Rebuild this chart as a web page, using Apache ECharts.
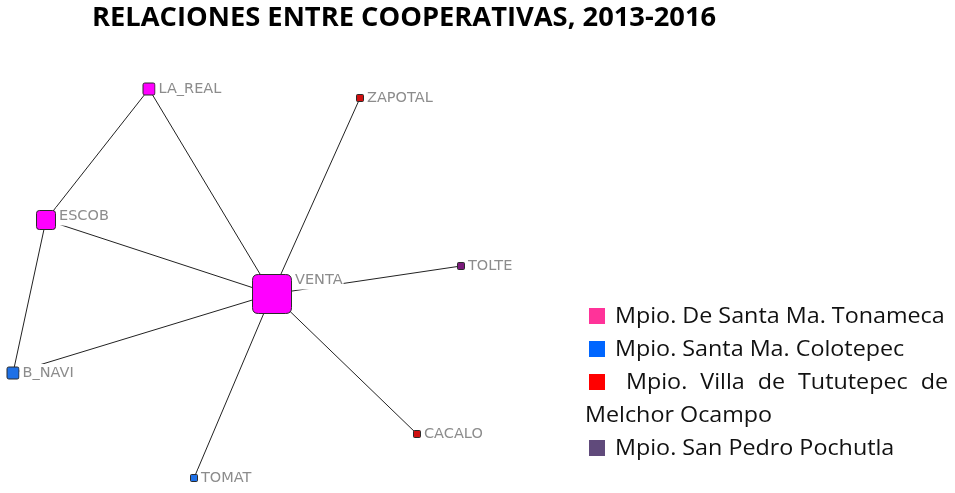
<!DOCTYPE html>
<html>
<head>
<meta charset="utf-8">
<script src="https://cdn.jsdelivr.net/npm/echarts@6/dist/echarts.min.js"></script>
<style>
  html, body { margin: 0; padding: 0; background: #fff; }
  #main { width: 955px; height: 493px; }
</style>
</head>
<body>
<div id="main"></div>
<script>
// nodos de la red (posiciones del layout, en pixeles de la imagen)
const nodeNames = ['LA_REAL', 'ZAPOTAL', 'ESCOB', 'VENTA', 'TOLTE', 'B_NAVI', 'CACALO', 'TOMAT'];
const nodeX = [149, 360, 46, 272, 461, 13, 417, 194];
const nodeY = [89, 98, 220, 294, 266, 373, 434, 478];
const nodeSize = [12, 7, 19, 39, 7, 12, 7, 7];
const nodeCat = [0, 2, 0, 0, 3, 1, 2, 1];

const linkSource = ['LA_REAL', 'LA_REAL', 'ZAPOTAL', 'ESCOB', 'ESCOB', 'B_NAVI', 'TOLTE', 'CACALO', 'TOMAT'];
const linkTarget = ['ESCOB', 'VENTA', 'VENTA', 'VENTA', 'B_NAVI', 'VENTA', 'VENTA', 'VENTA', 'VENTA'];

const legendNames = [
  'Mpio. De Santa Ma. Tonameca',
  'Mpio. Santa Ma. Colotepec',
  'Mpio. Villa de Tututepec de',
  'Mpio. San Pedro Pochutla'
];
const legendExtra = 'Melchor Ocampo';
const legendColors = ['#FF3399', '#0066FF', '#FF0000', '#604A7B'];
const nodeColors = ['#FF00FF', '#1E70E6', '#D01010', '#7A1A7A'];

const titleText = 'RELACIONES ENTRE COOPERATIVAS, 2013-2016';

// cuadro redondeado (esquinas ~15%)
const roundSq = 'path://M3,0 H17 Q20,0 20,3 V17 Q20,20 17,20 H3 Q0,20 0,17 V3 Q0,0 3,0 Z';

var myChart = echarts.init(document.getElementById('main'));

// titulo y leyenda a mano (el original esta un poco estirado en horizontal)
const legFont = '21px "Open Sans"';
const legScale = 1.11;
let els = [{
  type: 'text',
  x: 92,
  y: 19,
  scaleX: 1.05,
  style: {
    text: titleText,
    fill: '#000',
    font: 'bold 26px "Open Sans"',
    verticalAlign: 'middle'
  }
}];
const rowY = [316, 349, 382, 448];

// la tercera fila va justificada entre 626 y 948
const ctx = document.createElement('canvas').getContext('2d');
ctx.font = legFont;
function justify(words, x0, x1) {
  const w = words.map(t => ctx.measureText(t).width * legScale);
  const gap = (x1 - x0 - w.reduce((a, b) => a + b, 0)) / (words.length - 1);
  let x = x0, xs = [];
  w.forEach(v => { xs.push(x); x += v + gap; });
  return xs;
}

legendNames.forEach((name, i) => {
  els.push({
    type: 'rect',
    shape: { x: 589, y: rowY[i] - 8, width: 16, height: 16 },
    style: { fill: legendColors[i] }
  });
  if (i === 2) {
    const words = name.split(' ');
    const xs = justify(words, 626, 948);
    words.forEach((w, k) => {
      els.push({
        type: 'text', x: xs[k], y: rowY[i] + 1, scaleX: legScale,
        style: { text: w, fill: '#111', font: legFont, verticalAlign: 'middle' }
      });
    });
  } else {
    els.push({
      type: 'text', x: 615, y: rowY[i] + 1, scaleX: legScale,
      style: { text: name, fill: '#111', font: legFont, verticalAlign: 'middle' }
    });
  }
});
els.push({
  type: 'text', x: 585, y: 416, scaleX: legScale,
  style: { text: legendExtra, fill: '#111', font: legFont, verticalAlign: 'middle' }
});

const data = nodeNames.map((n, i) => {
  let big = nodeSize[i] > 14;
  return {
    name: n,
    value: [nodeX[i], nodeY[i]],
    symbolSize: nodeSize[i],
    category: nodeCat[i],
    // nodos grandes: etiqueta arriba a la derecha; pequenos: centrada
    label: big
      ? { position: ['100%', 0], verticalAlign: 'top', offset: [0, -2.5] }
      : { position: 'right', verticalAlign: 'middle', offset: [0, 0] }
  };
});
const links = linkSource.map((s, i) => ({ source: s, target: linkTarget[i] }));

myChart.setOption({
  backgroundColor: '#fff',
  animation: false,
  grid: { left: 0, right: 0, top: 0, bottom: 0 },
  xAxis: { type: 'value', min: 0, max: 955, show: false },
  yAxis: { type: 'value', min: 0, max: 493, inverse: true, show: false },
  graphic: els,
  series: [{
    type: 'graph',
    coordinateSystem: 'cartesian2d',
    symbol: roundSq,
    categories: nodeColors.map((c, i) => ({ name: 'c' + i, itemStyle: { color: c } })),
    itemStyle: { borderColor: '#2a2a2a', borderWidth: 1 },
    label: {
      show: true,
      distance: 0,
      align: 'left',
      color: '#8c8c8c',
      fontFamily: 'DejaVu Sans',
      fontSize: 14.5,
      lineHeight: 16,
      backgroundColor: '#fff',
      padding: [1, 1, 1, 3],
      formatter: '{b}'
    },
    lineStyle: { color: '#222', width: 1, opacity: 1 },
    data: data,
    links: links
  }]
});
</script>
</body>
</html>
